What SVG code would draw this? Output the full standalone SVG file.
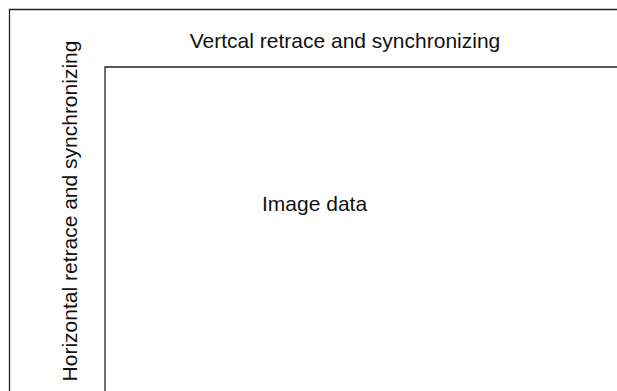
<svg xmlns="http://www.w3.org/2000/svg" width="617" height="391" viewBox="0 0 617 391">
<style>
.frame{fill:none;stroke:#222;stroke-width:1.3}
.lbl{font-family:"Liberation Sans",Arial,sans-serif;font-size:21px;fill:#111}
</style>
<rect width="617" height="391" fill="#fff"/>
<g id="outer"><path class="frame" d="M618,9.5 H9.5 V392"/></g>
<g id="inner"><path class="frame" d="M618,67 H105 V392"/></g>
<g id="vertical-label"><text class="lbl" x="345" y="48" text-anchor="middle">Vertcal retrace and synchronizing</text></g>
<g id="horizontal-label"><text class="lbl" transform="translate(77,211) rotate(-90)" text-anchor="middle">Horizontal retrace and synchronizing</text></g>
<g id="image-data"><text class="lbl" x="262" y="211">Image data</text></g>
<g id="connectors"></g>
</svg>
